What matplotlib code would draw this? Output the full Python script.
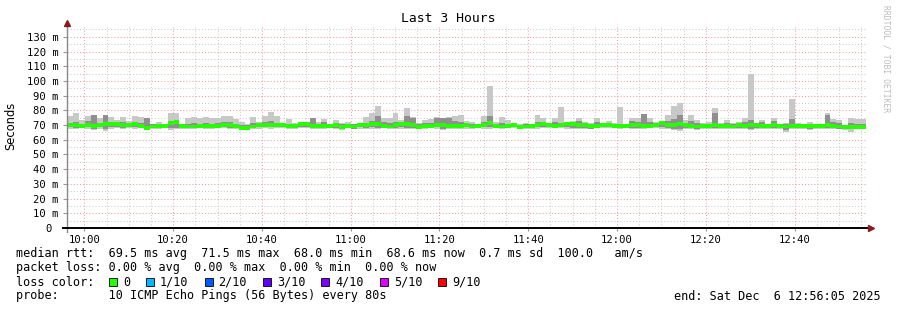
import numpy as np
import matplotlib
matplotlib.use("Agg")
import matplotlib.pyplot as plt
from matplotlib.ticker import MultipleLocator, FixedLocator

# smokeping style: 135 rounds of 10 pings, one every 80 s, ending 12:56:05
start_min = 9 * 60 + 56 + 5 / 60.0   # 09:56:05 in minutes of the day
step_min = 80 / 60.0

# light smoke (min .. max), ms
hi = [76.4, 78, 73.5, 76, 77, 74.6, 77, 75.7, 73.5, 75.7,
      73, 76.4, 75.3, 74.6, 71, 72.3, 70.7, 78.5, 78.5, 71,
      74.6, 75.7, 74.6, 75.7, 75, 75, 76.5, 76, 74, 72,
      70.8, 75.7, 72.3, 76.2, 79, 76.4, 71.2, 74, 71.6, 70,
      70.7, 74.6, 72.3, 74.1, 70.7, 73.5, 71.6, 72.3, 70.7, 70.7,
      75.3, 78.5, 83, 74.6, 74.6, 78.5, 73.5, 81.4, 75.8, 71.2,
      73.5, 74, 75.3, 74.6, 75.3, 76.2, 76.9, 73, 72.4, 70.8,
      76.2, 96.6, 72.4, 75.3, 73.5, 70.1, 70.8, 71.2, 70.8, 76.9,
      74.6, 70, 74.6, 82.5, 71.2, 73, 74.6, 72.3, 71.2, 74.6,
      71.2, 73, 71.2, 82, 70.1, 74.6, 74.6, 77.5, 74.6, 72.3,
      73, 76.9, 83, 84.8, 73.5, 76.9, 73.5, 71.2, 72.4, 81.4,
      71.7, 73.5, 71.2, 72.4, 74.6, 104.8, 71.2, 73.5, 70.8, 74.6,
      70.8, 71.7, 87.8, 71.2, 70.8, 72.4, 70.1, 70.1, 78, 73.9,
      73.5, 70.1, 74.6, 73.9, 73.9]
lo = [67.5, 67, 68, 67.5, 66.5, 67.5, 66, 67, 68, 67,
      68, 67.5, 68, 66.5, 67.5, 67.5, 68, 66.5, 67, 67.5,
      67.5, 67, 68, 67.5, 67.5, 68, 68, 67.5, 67, 66.5,
      66.5, 67.5, 67.5, 68, 67.5, 68, 68, 67, 67.5, 68,
      68, 67.5, 67, 67.5, 68, 67.5, 66.5, 68, 67, 67.5,
      67.5, 67.5, 67, 68, 67, 67, 67.5, 67, 67, 67,
      67.5, 68, 67.5, 66.5, 67, 67.5, 67, 67.5, 67.5, 68,
      67.5, 67.5, 68, 67.5, 68, 68, 67, 67.5, 67.5, 67.5,
      68, 68, 68, 68, 67.5, 67, 67.5, 67.5, 67, 68,
      68, 68, 68, 67.5, 68, 67, 67.5, 67, 68, 68,
      67.5, 67, 66.5, 66, 67.5, 67, 66.5, 67, 67.5, 67,
      67, 67.5, 67, 67, 67.5, 66.5, 67, 67.5, 67, 67,
      67.5, 65.5, 67, 67, 67.5, 66.5, 67.5, 67.5, 67, 67.5,
      67, 66.5, 65.5, 67, 67]

# darker inner smoke, ms
mhi = [71.5, 72, 71, 73, 77, 71.5, 77, 72, 71, 72,
       71, 72, 71.5, 74.5, 70.5, 71, 70, 72, 73, 70.5,
       71, 71.5, 71, 71.5, 71, 71.5, 72, 72, 71, 70,
       70, 71.5, 71, 72, 73, 71.5, 71, 71, 71, 71,
       70.5, 74.6, 71, 72, 70, 71, 70.5, 71, 70.5, 70.5,
       71.5, 73, 76, 72, 71.5, 72, 71, 76, 74.6, 70.5,
       71.5, 71.5, 74.5, 74.5, 74.5, 73, 72, 71.5, 71, 70.5,
       72, 76.2, 71, 71.5, 71, 70, 70, 70.5, 70, 72,
       71.5, 70, 72, 71, 70.5, 71.5, 73, 71.5, 70.5, 72,
       70.5, 71.5, 70.5, 71, 70, 72.5, 72, 77.5, 72, 71,
       72.5, 73, 74, 77, 71.5, 73, 71.5, 70.5, 71, 78.5,
       70.5, 71.5, 70.5, 71.5, 72, 73.5, 70.5, 72, 70, 72.5,
       70, 70.5, 74, 70.5, 70, 71, 69.5, 69.5, 77, 72,
       71.5, 69.5, 71.5, 71, 71]
mlo = [68.5, 68, 68.5, 68.5, 67.5, 68.5, 67.5, 68.5, 68.5, 68,
       68.5, 68.5, 68.5, 67, 68, 68, 68.5, 68, 68, 68.5,
       68, 68, 68.5, 68, 68, 68.5, 68.5, 68, 68, 67,
       67, 68, 68.5, 68.5, 68.5, 68.5, 68.5, 68, 68, 68.5,
       68.5, 68, 68, 68, 68.5, 68, 67.5, 68.5, 67.5, 68.5,
       68, 68.5, 68, 68.5, 68, 68, 68.5, 68, 68, 67.5,
       68, 68.5, 68.5, 67.5, 68, 68, 68, 68.5, 68, 68.5,
       68.5, 68.5, 68.5, 68, 68.5, 68.5, 67.5, 68, 68, 68.5,
       68.5, 68.5, 68.5, 68.5, 68.5, 68, 68, 68, 67.5, 68.5,
       68.5, 68.5, 68.5, 68, 68.5, 68, 68, 68, 68.5, 68.5,
       68.5, 68, 67.5, 67, 68, 68, 67.5, 68, 68, 68,
       68, 68, 68, 68, 68, 67.5, 68, 68, 68, 68,
       68, 66.5, 68, 68, 68, 67.5, 68, 68, 68, 68,
       67.5, 67.5, 67, 67.5, 67.5]

# median rtt, ms (all rounds 0 loss -> green)
med = [70, 70, 69.5, 70, 69.5, 70, 70.5, 71, 70.5, 70,
       70, 70.5, 69.5, 68, 69, 69.5, 69.5, 71.5, 72, 69.5,
       69, 69, 69.5, 69.5, 69.5, 69.5, 70, 70, 69.5, 68,
       68, 69, 70, 70, 70, 70, 70, 69.5, 69.5, 70.5,
       70.5, 69.5, 69.5, 69.5, 69.5, 70, 68.5, 69.5, 69, 70,
       70, 70.5, 70.5, 69.5, 69, 70, 70.5, 71, 70, 68.5,
       69.5, 69.5, 70, 70, 69.5, 69.5, 69.5, 70, 69, 69.5,
       70, 71.5, 69.5, 69, 69.5, 70, 68.5, 69, 69.5, 70,
       70.5, 70, 69.5, 70, 70.5, 70.5, 70, 70, 69.5, 69.5,
       70, 70, 69.5, 69.5, 69.5, 70, 70, 69.5, 69.5, 70,
       71.5, 70, 70, 71, 70, 69.5, 69, 69.5, 69.5, 70,
       69.5, 69.5, 69, 70, 69.5, 70, 70, 69.5, 69.5, 70,
       69.5, 69, 69.5, 69.5, 69.5, 69.5, 69.5, 69.5, 70, 69.5,
       69, 68.5, 68.5, 68.5, 68.5]

loss_labels = ["0", "1/10", "2/10", "3/10", "4/10", "5/10", "9/10"]
loss_colors = ["#26ff00", "#00b8ff", "#0059ff", "#5e00ff", "#7e00ff", "#dd00ff", "#ff0000"]

W, H = 897, 310
mono = "DejaVu Sans Mono"

def fx(x):
    return x / W

def fy(y):
    return 1 - y / H

fig = plt.figure(figsize=(W / 100, H / 100), dpi=100)
fig.patch.set_facecolor("white")
ax = fig.add_axes([fx(67), fy(228), (866 - 67) / W, (228 - 27) / H])

t = start_min + np.arange(len(med)) * step_min
hi_a, lo_a = np.array(hi), np.array(lo)
mhi_a, mlo_a = np.array(mhi), np.array(mlo)
med_a = np.array(med)

ax.bar(t, hi_a - lo_a, bottom=lo_a, width=step_min, align="edge",
       color="#c8c8c8", linewidth=0, antialiased=False, zorder=2)
ax.bar(t, mhi_a - mlo_a, bottom=mlo_a, width=step_min, align="edge",
       color="#8f8f8f", linewidth=0, antialiased=False, zorder=3)
ax.bar(t, 2.6, bottom=med_a - 1.3, width=step_min, align="edge",
       color=loss_colors[0], linewidth=0, antialiased=False, zorder=4)

ax.set_xlim(start_min, start_min + 180)
ax.set_ylim(0, 136.7)

# grid
ax.yaxis.set_major_locator(MultipleLocator(10))
ax.yaxis.set_minor_locator(MultipleLocator(5))
ax.xaxis.set_major_locator(FixedLocator(np.arange(600, 776, 20)))
ax.xaxis.set_minor_locator(FixedLocator(np.arange(600, 776, 5)))
ax.grid(which="major", color="#f0a0a0", linestyle=(0, (1, 2)), linewidth=0.75)
ax.grid(which="minor", color="#cccccc", linestyle=(0, (1, 2)), linewidth=0.75)
ax.set_axisbelow(True)

yt = np.arange(0, 131, 10)
ax.set_yticks(yt)
ax.set_yticklabels(["0 "] + ["%d m" % v for v in yt[1:]])
xt = np.arange(600, 776, 20)
ax.set_xticks(xt)
ax.set_xticklabels(["%d:%02d" % (v // 60, v % 60) for v in xt])
for lab in ax.get_xticklabels() + ax.get_yticklabels():
    lab.set_family(mono)
    lab.set_fontsize(7.6)
ax.tick_params(axis="y", which="major", length=3, color="#999999", pad=3)
ax.tick_params(axis="x", which="major", length=2, color="#999999", pad=3)
ax.tick_params(which="minor", length=0)

for s in ["top", "right", "left", "bottom"]:
    ax.spines[s].set_visible(False)

# axis lines with arrows, rrdtool style
ax.plot([0, 0], [-0.02, 1.015], transform=ax.transAxes, color="#888888",
        linewidth=1.0, clip_on=False, zorder=6)
ax.plot([-0.005, 1.004], [0, 0], transform=ax.transAxes, color="black",
        linewidth=1.4, clip_on=False, zorder=6)
ax.plot([0], [1.02], marker="^", color="#8b1a1a", markersize=4,
        transform=ax.transAxes, clip_on=False, zorder=7)
ax.plot([1.006], [0], marker=">", color="#8b1a1a", markersize=4,
        transform=ax.transAxes, clip_on=False, zorder=7)

fig.text(fx(448), fy(19), "Last 3 Hours", ha="center", va="center",
         family=mono, fontsize=9.4)
fig.text(fx(11), fy(126), "Seconds", rotation=90, ha="center", va="center",
         family="DejaVu Sans", fontsize=8.3)
fig.text(fx(886), fy(5), "RRDTOOL / TOBI OETIKER", rotation=270, ha="center",
         va="top", family=mono, fontsize=5.8, color="#bdbdbd")

fs = 8.5
fig.text(fx(16), fy(254), "median rtt:  69.5 ms avg  71.5 ms max  68.0 ms min  "
         "68.6 ms now  0.7 ms sd  100.0   am/s", family=mono, fontsize=fs, va="center")
fig.text(fx(16), fy(268), "packet loss: 0.00 % avg  0.00 % max  0.00 % min  0.00 % now",
         family=mono, fontsize=fs, va="center")
fig.text(fx(16), fy(282), "loss color:", family=mono, fontsize=fs, va="center")
fig.text(fx(16), fy(296), "probe:       10 ICMP Echo Pings (56 Bytes) every 80s",
         family=mono, fontsize=fs, va="center")
fig.text(fx(881), fy(296), "end: Sat Dec  6 12:56:05 2025", family=mono,
         fontsize=fs, va="center", ha="right")

bx = 109
for lab, col in zip(loss_labels, loss_colors):
    fig.patches.append(plt.Rectangle((fx(bx), fy(286)), 8 / W, 8 / H,
                                     transform=fig.transFigure, facecolor=col,
                                     edgecolor="black", linewidth=0.6))
    fig.text(fx(bx + 14), fy(282), lab, family=mono, fontsize=fs, va="center")
    bx += 14 + 7.1 * len(lab) + 16

fig.savefig("out.png", dpi=100, facecolor="white")
